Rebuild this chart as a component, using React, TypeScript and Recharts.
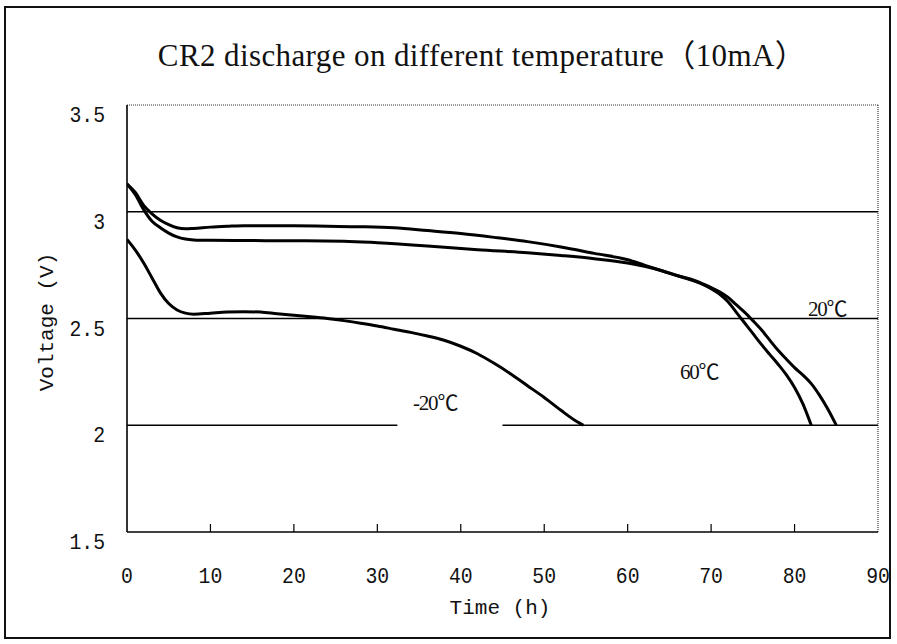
import React from 'react';
import { LineChart, Line, XAxis, YAxis, ReferenceLine } from 'recharts';

// discharge curves, time (h) vs voltage (V)
const hot60 = [
  { t: 0, v: 3.13 }, { t: 1, v: 3.09 }, { t: 2, v: 3.03 }, { t: 3, v: 2.99 }, { t: 4, v: 2.96 },
  { t: 5, v: 2.94 }, { t: 6, v: 2.925 }, { t: 7, v: 2.92 }, { t: 8, v: 2.922 }, { t: 10, v: 2.928 },
  { t: 12, v: 2.932 }, { t: 14, v: 2.935 }, { t: 16, v: 2.935 }, { t: 20, v: 2.934 }, { t: 24, v: 2.932 },
  { t: 28, v: 2.93 }, { t: 32, v: 2.925 }, { t: 36, v: 2.912 }, { t: 40, v: 2.898 }, { t: 44, v: 2.88 },
  { t: 48, v: 2.86 }, { t: 52, v: 2.835 }, { t: 56, v: 2.805 }, { t: 60, v: 2.775 }, { t: 62, v: 2.75 },
  { t: 64, v: 2.725 }, { t: 66, v: 2.7 }, { t: 68, v: 2.675 }, { t: 69, v: 2.66 }, { t: 70, v: 2.64 },
  { t: 71, v: 2.615 }, { t: 72, v: 2.58 }, { t: 73, v: 2.53 }, { t: 74, v: 2.48 }, { t: 75, v: 2.43 },
  { t: 76, v: 2.38 }, { t: 77, v: 2.333 }, { t: 78, v: 2.287 }, { t: 79, v: 2.237 }, { t: 80, v: 2.177 },
  { t: 81, v: 2.1 }, { t: 82, v: 2.0 },
];

const room20 = [
  { t: 0, v: 3.13 }, { t: 1, v: 3.08 }, { t: 2, v: 3.01 }, { t: 3, v: 2.955 }, { t: 4, v: 2.925 },
  { t: 5, v: 2.9 }, { t: 6, v: 2.882 }, { t: 7, v: 2.872 }, { t: 8, v: 2.868 }, { t: 10, v: 2.866 },
  { t: 14, v: 2.865 }, { t: 20, v: 2.864 }, { t: 26, v: 2.862 }, { t: 30, v: 2.855 }, { t: 36, v: 2.84 },
  { t: 42, v: 2.822 }, { t: 48, v: 2.808 }, { t: 52, v: 2.795 }, { t: 56, v: 2.78 }, { t: 60, v: 2.76 },
  { t: 62, v: 2.745 }, { t: 64, v: 2.725 }, { t: 66, v: 2.7 }, { t: 68, v: 2.678 }, { t: 69, v: 2.662 },
  { t: 70, v: 2.645 }, { t: 71, v: 2.625 }, { t: 72, v: 2.6 }, { t: 73, v: 2.565 }, { t: 74, v: 2.53 },
  { t: 75, v: 2.49 }, { t: 76, v: 2.448 }, { t: 77, v: 2.4 }, { t: 78, v: 2.352 }, { t: 79, v: 2.31 },
  { t: 80, v: 2.27 }, { t: 81, v: 2.235 }, { t: 82, v: 2.195 }, { t: 83, v: 2.14 }, { t: 84, v: 2.075 },
  { t: 85, v: 2.0 },
];

const cold20 = [
  { t: 0, v: 2.87 }, { t: 1, v: 2.82 }, { t: 2, v: 2.76 }, { t: 3, v: 2.69 }, { t: 4, v: 2.62 },
  { t: 5, v: 2.57 }, { t: 6, v: 2.54 }, { t: 7, v: 2.525 }, { t: 8, v: 2.52 }, { t: 10, v: 2.525 },
  { t: 12, v: 2.53 }, { t: 14, v: 2.532 }, { t: 16, v: 2.53 }, { t: 18, v: 2.522 }, { t: 20, v: 2.515 },
  { t: 22, v: 2.508 }, { t: 24, v: 2.5 }, { t: 26, v: 2.49 }, { t: 28, v: 2.478 }, { t: 30, v: 2.465 },
  { t: 32, v: 2.45 }, { t: 34, v: 2.435 }, { t: 36, v: 2.418 }, { t: 38, v: 2.398 }, { t: 40, v: 2.37 },
  { t: 42, v: 2.335 }, { t: 44, v: 2.29 }, { t: 46, v: 2.24 }, { t: 48, v: 2.185 }, { t: 50, v: 2.13 },
  { t: 52, v: 2.07 }, { t: 54, v: 2.015 }, { t: 54.7, v: 2.0 },
];

const xTicks = [0, 10, 20, 30, 40, 50, 60, 70, 80, 90];
const yTicks = [1.5, 2, 2.5, 3, 3.5];
const gridFull = [3, 2.5];

const mono = '"Liberation Mono", "DejaVu Sans Mono", monospace';
const serif = '"Liberation Serif", "Noto Sans CJK SC", serif';

const XTick = (props: any) => {
  const { x, y, payload } = props;
  return (
    <g>
      {payload.value > 0 && payload.value < 90 && (
        <line x1={x} y1={y} x2={x} y2={y - 8} stroke="#000" strokeWidth={1.2} />
      )}
      <text
        transform={`translate(${x},${y + 51}) scale(0.9,1)`}
        textAnchor="middle" fontFamily={mono} fontSize={22} fill="#111"
      >
        {payload.value}
      </text>
    </g>
  );
};

const YTick = (props: any) => {
  const { x, y, payload } = props;
  return (
    <text
      transform={`translate(${x - 22},${y + 17}) scale(0.9,1)`}
      textAnchor="end" fontFamily={mono} fontSize={22} fill="#111"
    >
      {payload.value}
    </text>
  );
};

const curveLabel = (text: string, left: number, top: number) => (
  <div
    style={{
      position: 'absolute', left, top, fontFamily: serif, fontSize: 21,
      letterSpacing: -1.2, color: '#111', lineHeight: '20px', whiteSpace: 'nowrap',
    }}
  >
    {text}
  </div>
);

export default function App() {
  return (
    <div style={{ position: 'absolute', left: 0, top: 0, width: 897, height: 644, background: '#fff' }}>
      <div
        style={{
          position: 'absolute', left: 4, top: 6, width: 887, height: 633,
          border: '2px solid #111', boxSizing: 'border-box',
        }}
      />
      <div
        style={{
          position: 'absolute', left: 0, width: 964, top: 30, textAlign: 'center',
          fontFamily: serif, fontSize: 31, letterSpacing: 0.4, color: '#111', whiteSpace: 'nowrap',
        }}
      >
        CR2 discharge on different temperature（10mA）
      </div>
      <div
        style={{
          position: 'absolute', left: 47, top: 322, transform: 'translate(-50%, -50%) rotate(-90deg)',
          fontFamily: mono, fontSize: 21, color: '#111', whiteSpace: 'nowrap',
        }}
      >
        Voltage (V)
      </div>
      <div
        style={{
          position: 'absolute', left: 500, top: 608, transform: 'translate(-50%, -50%)',
          fontFamily: mono, fontSize: 21, color: '#111', whiteSpace: 'nowrap',
        }}
      >
        Time (h)
      </div>
      <div style={{ position: 'absolute', left: 0, top: 0 }}>
        <LineChart width={897} height={644} margin={{ top: 105, right: 19, bottom: 72, left: 67 }}>
          <XAxis
            type="number"
            dataKey="t"
            domain={[0, 90]}
            ticks={xTicks}
            height={40}
            tickSize={0}
            tickMargin={0}
            tickLine={false}
            tick={<XTick />}
            axisLine={{ stroke: '#000', strokeWidth: 1.6 }}
            allowDataOverflow
          />
          <YAxis
            type="number"
            domain={[1.5, 3.5]}
            ticks={yTicks}
            width={60}
            tickSize={0}
            tickMargin={0}
            tickLine={false}
            tick={<YTick />}
            axisLine={{ stroke: '#000', strokeWidth: 1.6 }}
            allowDataOverflow
          />
          <ReferenceLine y={3.5} stroke="#333" strokeWidth={1.2} strokeDasharray="1 1" />
          <ReferenceLine x={90} stroke="#333" strokeWidth={1.2} strokeDasharray="1 1" />
          {gridFull.map((g) => (
            <ReferenceLine key={g} y={g} stroke="#000" strokeWidth={1.4} />
          ))}
          <ReferenceLine segment={[{ x: 0, y: 2 }, { x: 32.4, y: 2 }]} stroke="#000" strokeWidth={1.4} />
          <ReferenceLine segment={[{ x: 45, y: 2 }, { x: 90, y: 2 }]} stroke="#000" strokeWidth={1.4} />
          <Line data={hot60} dataKey="v" type="monotone" stroke="#000" strokeWidth={3} dot={false} isAnimationActive={false} />
          <Line data={room20} dataKey="v" type="monotone" stroke="#000" strokeWidth={3} dot={false} isAnimationActive={false} />
          <Line data={cold20} dataKey="v" type="monotone" stroke="#000" strokeWidth={3} dot={false} isAnimationActive={false} />
        </LineChart>
      </div>
      {curveLabel('-20℃', 413, 393)}
      {curveLabel('60℃', 680, 362)}
      {curveLabel('20℃', 808, 299)}
    </div>
  );
}
